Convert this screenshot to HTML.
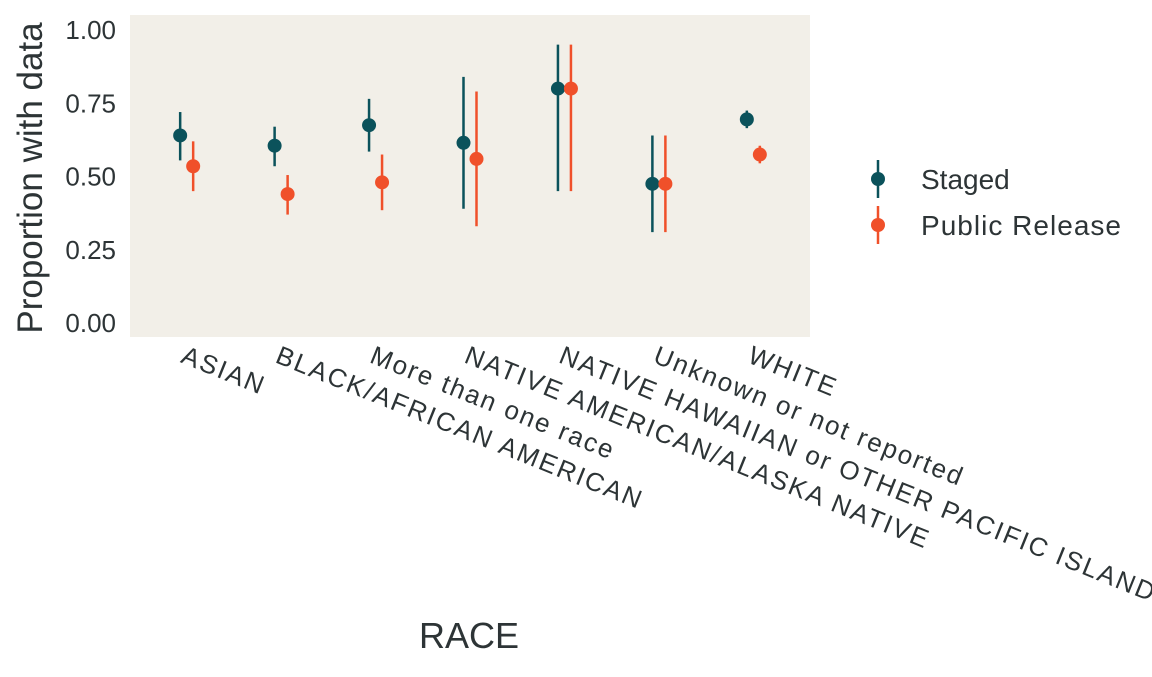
<!DOCTYPE html>
<html><head><meta charset="utf-8">
<style>
body{margin:0;background:#fff;}
svg text{font-family:"Liberation Sans",sans-serif;fill:#2d3436;}
</style></head>
<body>
<svg id="chart" width="1152" height="672">
<rect x="130" y="15" width="680" height="322" fill="#f2efe8"/>
<g id="marks"></g>
<g id="yticks"></g>
<g id="xticks"></g>
<text x="42" y="178" font-size="35" text-anchor="middle" transform="rotate(-90 42 178)">Proportion with data</text>
<text x="469" y="648" font-size="36" text-anchor="middle">RACE</text>
<g>
<g>
<line x1="878" y1="160" x2="878" y2="198" stroke="#0b525b" stroke-width="2.5"/>
<circle cx="878" cy="179" r="7" fill="#0b525b"/>
<text x="921" y="189" font-size="28">Staged</text></g>
<g>
<line x1="878" y1="206" x2="878" y2="244" stroke="#f0502a" stroke-width="2.5"/>
<circle cx="878" cy="225" r="7" fill="#f0502a"/>
<text x="921" y="235" font-size="28" textLength="200">Public Release</text></g>
</g>
</svg>
<script>
const categories=["ASIAN","BLACK/AFRICAN AMERICAN","More than one race","NATIVE AMERICAN/ALASKA NATIVE","NATIVE HAWAIIAN or OTHER PACIFIC ISLANDER","Unknown or not reported","WHITE"];
const stagedVal=[0.64,0.605,0.675,0.615,0.80,0.475,0.695];
const stagedLo=[0.555,0.535,0.585,0.39,0.45,0.31,0.665];
const stagedHi=[0.72,0.67,0.765,0.84,0.95,0.64,0.725];
const publicVal=[0.535,0.44,0.48,0.56,0.80,0.475,0.575];
const publicLo=[0.45,0.37,0.385,0.33,0.45,0.31,0.545];
const publicHi=[0.62,0.505,0.575,0.79,0.95,0.64,0.605];
const yTicks=[0,0.25,0.5,0.75,1];
const yTickLabels=["0.00","0.25","0.50","0.75","1.00"];
const NS="http://www.w3.org/2000/svg";
const yS=v=>323-v*293;
const step=680/(categories.length+0.2);
const xS=i=>130+(i+0.6)*step;
const marks=document.getElementById('marks');
function mk(tag,attrs,parent){const e=document.createElementNS(NS,tag);for(const k in attrs)e.setAttribute(k,attrs[k]);parent.appendChild(e);return e;}
function series(vals,lo,hi,off,col,name){
  vals.forEach((v,i)=>{
    const g=mk('g',{},marks);
    
    
    const x=xS(i)+off;
    mk('line',{x1:x,x2:x,y1:yS(lo[i]),y2:yS(hi[i]),stroke:col,'stroke-width':2.5},g);
    mk('circle',{cx:x,cy:yS(v),r:7,fill:col},g);
  });
}
series(stagedVal,stagedLo,stagedHi,-6.5,'#0b525b','staged-point');
series(publicVal,publicLo,publicHi,6.5,'#f0502a','public-point');
const yt=document.getElementById('yticks');
yTicks.forEach((t,i)=>{
  const e=mk('text',{x:116,y:yS(t)+9,'font-size':26,'text-anchor':'end'},yt);
  e.textContent=yTickLabels[i];
  
  
});
const xt=document.getElementById('xticks');
categories.forEach((c,i)=>{
  const x=xS(i)-7,y=362;
  const e=mk('text',{x:x,y:y,'font-size':26,'letter-spacing':2,transform:`rotate(22 ${x} ${y})`},xt);
  e.textContent=c;
  
  
});
</script>
</body></html>
